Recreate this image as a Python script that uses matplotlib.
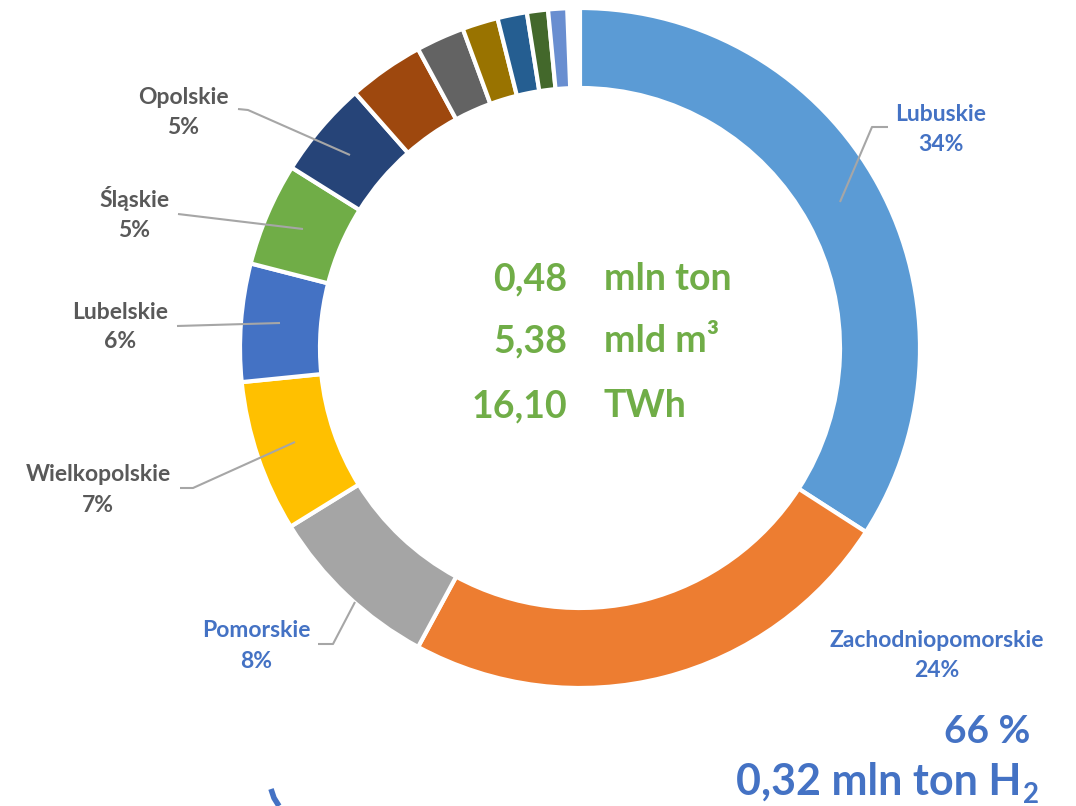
import matplotlib
matplotlib.use("Agg")
import matplotlib.pyplot as plt

# Share of hydrogen production potential by voivodeship (percent)
regions = ["Lubuskie", "Zachodniopomorskie", "Pomorskie", "Wielkopolskie",
           "Lubelskie", "Śląskie", "Opolskie",
           "Dolnośląskie", "Mazowieckie", "Łódzkie", "Kujawsko-pomorskie",
           "Warmińsko-mazurskie", "Podlaskie"]
shares = [34.1, 23.8, 8.3, 7.2, 5.6, 4.9, 4.6, 3.6, 2.3, 1.7, 1.4, 1.0, 0.9]
colors = ["#5B9BD5", "#ED7D31", "#A5A5A5", "#FFC000", "#4472C4", "#70AD47",
          "#264478", "#9E480E", "#636363", "#997300", "#255E91", "#43682B",
          "#698ED0"]
labelled = ["Lubuskie", "Zachodniopomorskie", "Pomorskie", "Wielkopolskie",
            "Lubelskie", "Śląskie", "Opolskie"]

totals_values = ["0,48", "5,38", "16,10"]
totals_units = ["mln ton", "mld m³", "TWh"]

summary_share = "66 %"
summary_mass = "0,32 mln ton H"

W, H = 1076, 806
fig = plt.figure(figsize=(W / 100, H / 100), dpi=100)
ax = fig.add_axes([0, 0, 1, 1])
ax.set_xlim(0, W)
ax.set_ylim(0, H)
ax.axis("off")


def Y(y):
    return H - y


FONT = "Lato"
BLUE = "#4472C4"
GREY_TXT = "#595959"
GREEN = "#70AD47"
LEADER = "#A6A6A6"

cx, cy = 580, 348
ax.pie([s / 100 for s in shares], colors=colors, startangle=90,
       counterclock=False, radius=340, center=(cx, Y(cy)), normalize=False,
       wedgeprops=dict(width=80, edgecolor="white", linewidth=3))
ax.set_xlim(0, W)
ax.set_ylim(0, H)
ax.set_aspect("equal")

# label positions: (x centre, name baseline, percent baseline, colour)
label_pos = {
    "Lubuskie": (941, 121, 151, BLUE),
    "Zachodniopomorskie": (937, 647, 677, BLUE),
    "Pomorskie": (256, 637, 668, BLUE),
    "Wielkopolskie": (98, 481, 512, GREY_TXT),
    "Lubelskie": (120, 319, 348, GREY_TXT),
    "Śląskie": (134, 207, 237, GREY_TXT),
    "Opolskie": (183, 104, 134, GREY_TXT),
}
for name in labelled:
    x, yb1, yb2, col = label_pos[name]
    val = shares[regions.index(name)]
    ax.text(x, Y(yb1), name, ha="center", va="baseline", fontsize=16.5,
            fontweight="bold", color=col, family=FONT)
    ax.text(x, Y(yb2), f"{round(val)}%", ha="center", va="baseline",
            fontsize=16.5, fontweight="bold", color=col, family=FONT)

# leader lines
leaders = [
    [(840, 202), (872, 127), (888, 127)],
    [(355, 602), (333, 644), (318, 644)],
    [(295, 442), (193, 488), (180, 488)],
    [(280, 323), (177, 326)],
    [(303, 229), (178, 214)],
    [(350, 155), (248, 110), (238, 109)],
]
for pts in leaders:
    ax.plot([p[0] for p in pts], [Y(p[1]) for p in pts], color=LEADER,
            lw=1.5, solid_capstyle="butt")

# totals in the centre of the ring
for val, unit, yb in zip(totals_values, totals_units, [290, 352, 417]):
    ax.text(567, Y(yb), val, ha="right", va="baseline", fontsize=27,
            fontweight="bold", color=GREEN, family=FONT)
    ax.text(604, Y(yb), unit, ha="left", va="baseline", fontsize=27,
            fontweight="bold", color=GREEN, family=FONT)

# summary for the top regions
ax.text(1030, Y(743), summary_share, ha="right", va="baseline", fontsize=28,
        fontweight="bold", color=BLUE, family=FONT)
ax.text(1021, Y(795), summary_mass, ha="right", va="baseline", fontsize=31,
        fontweight="bold", color=BLUE, family=FONT)
ax.text(1023, Y(803), "2", ha="left", va="baseline", fontsize=20,
        fontweight="bold", color=BLUE, family=FONT)

# partial decorative stroke at the bottom edge
ax.plot([271, 274, 279], [Y(789), Y(798), Y(806)], color=BLUE, lw=4,
        solid_capstyle="butt")

fig.savefig("out.png", dpi=100)
